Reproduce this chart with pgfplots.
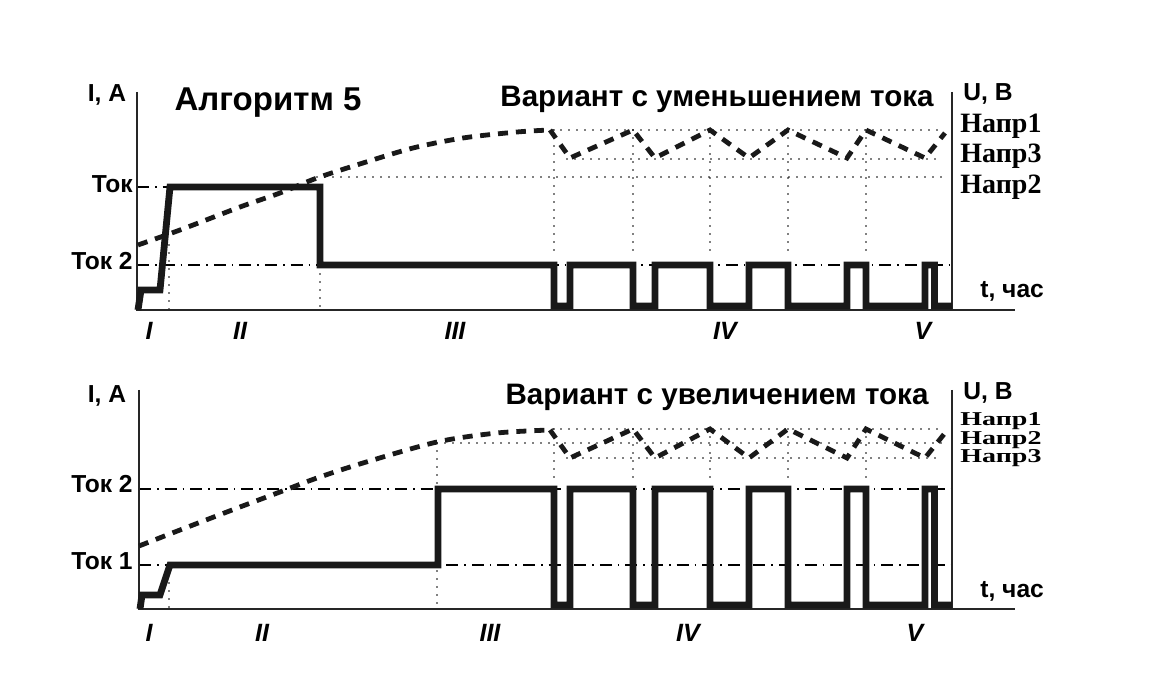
\documentclass[border=0pt]{standalone}
\usepackage{pgfplots}
\pgfplotsset{compat=1.18}
\usepackage{graphicx}
\usepackage{fontspec}
\setmainfont{Liberation Sans}
\newfontfamily\serifb{Liberation Serif}
\tikzset{
  cur/.style={line width=3.4pt, line join=miter, black!90},
  volt/.style={line width=2.4pt, dash pattern=on 5pt off 4pt, black!90},
  dott/.style={line width=0.9pt, line cap=round, dash pattern=on 0pt off 4pt, black},
  dd/.style={line width=0.6pt, dash pattern=on 6pt off 3pt on 0.8pt off 3pt, black},
  ax/.style={line width=1pt, black!85},
  lab/.style={font=\fontsize{12.3}{12.3}\selectfont\bfseries, inner sep=0pt},
  napr/.style={font=\fontsize{14}{14}\selectfont\serifb\bfseries, inner sep=0pt, anchor=base west},
  rom/.style={font=\fontsize{12.5}{12.5}\selectfont\bfseries\itshape, inner sep=0pt, anchor=base},
}
\begin{document}
\begin{tikzpicture}
\begin{axis}[width=579pt, height=341.5pt, scale only axis,
  xmin=0, xmax=1158, ymin=0, ymax=683, y dir=reverse,
  hide axis, clip=false]
% ================= TOP PANEL =================
% guide lines
\addplot[dd] coordinates {(137,265) (952,265)};
\addplot[dd] coordinates {(137,187) (170,187)};
\addplot[dott] coordinates {(553,130) (942,130)};
\addplot[dott] coordinates {(567,159) (942,159)};
\addplot[dott] coordinates {(317,177) (942,177)};
\addplot[dott] coordinates {(169,245) (169,309)};
\addplot[dott] coordinates {(320,266) (320,309)};
\addplot[dott] coordinates {(554,130) (554,257)};
\addplot[dott] coordinates {(633,130) (633,257)};
\addplot[dott] coordinates {(710,130) (710,257)};
\addplot[dott] coordinates {(788,130) (788,257)};
\addplot[dott] coordinates {(866,130) (866,257)};
% axes
\addplot[ax] coordinates {(137,92) (137,310) (1015,310)};
\addplot[ax] coordinates {(952,92) (952,310)};
% voltage
\addplot[volt, smooth] coordinates {(138,245) (180,230) (240,207) (280,193) (317,178) (363,163) (413,148) (463,138) (517,132) (550,130)};
\addplot[volt] coordinates {(550,130) (570,158) (633,130) (655,158) (710,130) (749,158) (788,130) (847,158) (866,130) (925,158) (945,133)};
% current
\addplot[cur] coordinates {(138,310) (141,290) (160,290) (170,187) (320,187) (320,265) (554,265) (554,306) (570,306) (570,265) (633,265) (633,306) (655,306) (655,265) (710,265) (710,306) (749,306) (749,265) (788,265) (788,306) (847,306) (847,265) (866,265) (866,306) (925,306) (925,265) (934.5,265) (934.5,306) (952,306)};
% labels
\node[lab, anchor=base] at (axis cs:107,102) {I, A};
\node[font=\fontsize{16.5}{16.5}\selectfont\bfseries, inner sep=0pt, anchor=base] at (axis cs:268,111) {Алгоритм 5};
\node[font=\fontsize{14.8}{14.8}\selectfont\bfseries, inner sep=0pt, anchor=base] at (axis cs:717,107) {Вариант с уменьшением тока};
\node[lab, anchor=base west] at (axis cs:963,101) {U, В};
\node[napr] at (axis cs:960,133) {Напр1};
\node[napr] at (axis cs:960,163) {Напр3};
\node[napr] at (axis cs:960,194) {Напр2};
\node[lab, anchor=base west] at (axis cs:980,298) {t, час};
\node[lab, anchor=base east] at (axis cs:133,193) {Ток};
\node[lab, anchor=base east] at (axis cs:133,270) {Ток 2};
\node[rom] at (axis cs:149,340) {I};
\node[rom] at (axis cs:240,340) {II};
\node[rom] at (axis cs:455,340) {III};
\node[rom] at (axis cs:725,340) {IV};
\node[rom] at (axis cs:923,340) {V};
% ================= BOTTOM PANEL =================
\addplot[dd] coordinates {(139,489) (952,489)};
\addplot[dd] coordinates {(139,565) (952,565)};
\addplot[dott] coordinates {(553,429) (942,429)};
\addplot[dott] coordinates {(437,443) (942,443)};
\addplot[dott] coordinates {(567,458) (942,458)};
\addplot[dott] coordinates {(169,567) (169,608)};
\addplot[dott] coordinates {(437,443) (437,608)};
\addplot[dott] coordinates {(554,429) (554,482)};
\addplot[dott] coordinates {(633,429) (633,482)};
\addplot[dott] coordinates {(710,429) (710,482)};
\addplot[dott] coordinates {(788,429) (788,482)};
\addplot[dott] coordinates {(866,429) (866,482)};
\addplot[ax] coordinates {(139,390) (139,609) (1015,609)};
\addplot[ax] coordinates {(952,390) (952,609)};
\addplot[volt, smooth] coordinates {(139,546) (180,530) (240,507) (280,492) (317,478) (363,463) (437,442) (497,433) (550,430)};
\addplot[volt] coordinates {(550,430) (570,458) (633,429) (655,458) (710,429) (749,458) (788,429) (847,458) (866,429) (925,458) (945,433)};
\addplot[cur] coordinates {(140,609) (142,595) (160,595) (170,565) (438,565) (438,489) (554,489) (554,605) (570,605) (570,489) (633,489) (633,605) (655,605) (655,489) (710,489) (710,605) (749,605) (749,489) (788,489) (788,605) (847,605) (847,489) (866,489) (866,605) (925,605) (925,489) (934.5,489) (934.5,605) (952,605)};
\node[lab, anchor=base] at (axis cs:107,403) {I, A};
\node[font=\fontsize{14.8}{14.8}\selectfont\bfseries, inner sep=0pt, anchor=base] at (axis cs:717,405) {Вариант с увеличением тока};
\node[lab, anchor=base west] at (axis cs:963,400) {U, В};
\node[napr] at (axis cs:960,426) {\scalebox{1}[0.7]{Напр1}};
\node[napr] at (axis cs:960,444.5) {\scalebox{1}[0.7]{Напр2}};
\node[napr] at (axis cs:960,463) {\scalebox{1}[0.7]{Напр3}};
\node[lab, anchor=base west] at (axis cs:980,598) {t, час};
\node[lab, anchor=base east] at (axis cs:133,493) {Ток 2};
\node[lab, anchor=base east] at (axis cs:133,570) {Ток 1};
\node[rom] at (axis cs:149,642) {I};
\node[rom] at (axis cs:262,642) {II};
\node[rom] at (axis cs:490,642) {III};
\node[rom] at (axis cs:688,642) {IV};
\node[rom] at (axis cs:915,642) {V};
\end{axis}
\pgfresetboundingbox
\path (0,0) rectangle (579pt,341.5pt);
\end{tikzpicture}
\end{document}
